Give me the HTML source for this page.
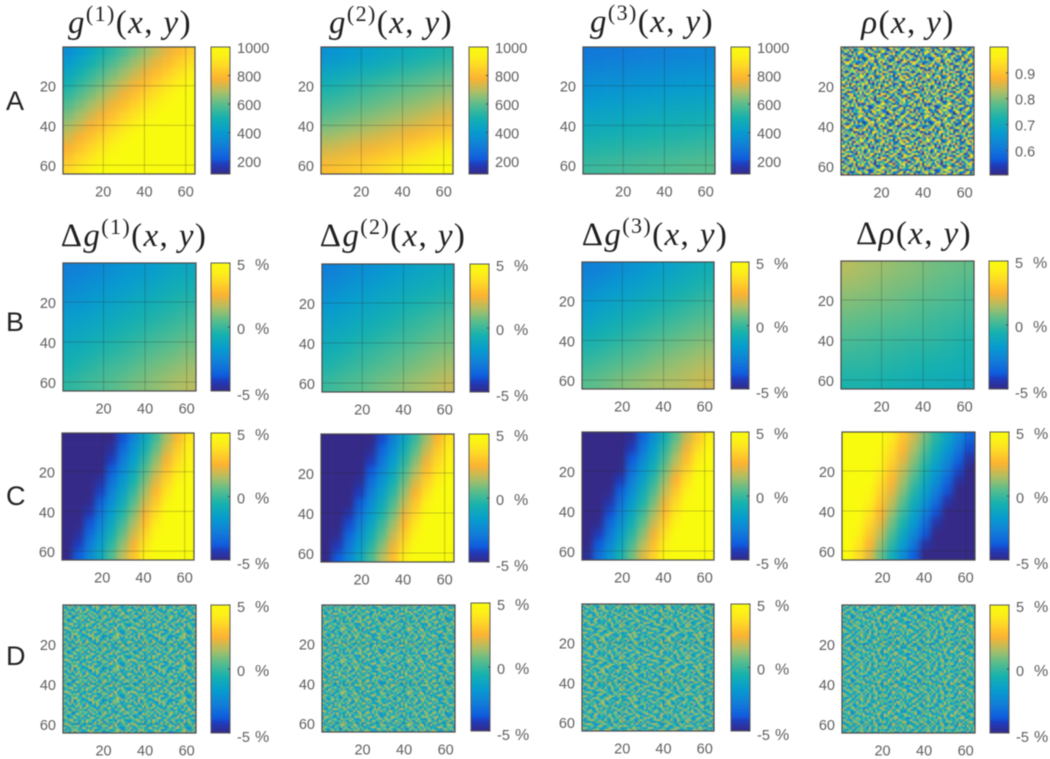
<!DOCTYPE html>
<html lang="en">
<head>
<meta charset="utf-8">
<title>Heatmap panels</title>
<style>
html,body{margin:0;padding:0;background:#fff;width:1050px;height:759px;overflow:hidden}
svg{display:block;filter:blur(0.4px)}
.tick{font-family:"Liberation Sans",sans-serif;font-size:14.5px;fill:#5e5e5e}
.title{font-family:"Liberation Serif",serif;font-size:33px;fill:#1e1e1e;letter-spacing:1.4px}
.title .i{font-style:italic}
.title .s{font-size:22px}
.row-label{font-family:"Liberation Sans",sans-serif;font-size:27px;fill:#222}
</style>
</head>
<body>
<svg id="chart" xmlns="http://www.w3.org/2000/svg" width="1050" height="759" viewBox="0 0 1050 759">
<defs id="defs">
<filter id="soft-8" x="-20%" y="-20%" width="140%" height="140%" color-interpolation-filters="sRGB"><feGaussianBlur stdDeviation="7"/></filter>
<filter id="soft-12" x="-20%" y="-20%" width="140%" height="140%" color-interpolation-filters="sRGB"><feGaussianBlur stdDeviation="3.2"/></filter>
<filter id="soft-noise" x="-5%" y="-5%" width="110%" height="110%" color-interpolation-filters="sRGB"><feGaussianBlur stdDeviation="0.5"/></filter>
</defs>
</svg>
<script>
// ---- axis tick values ----
const axisTicks = [20, 40, 60];
const gainTicks = [200, 400, 600, 800, 1000];
const rhoTicks = [0.6, 0.7, 0.8, 0.9];
const percentTicks = [-5, 0, 5];
const gainRange = [110, 1000];
const rhoRange = [0.505, 1.0];
const percentRange = [-5, 5];
const rhoNoiseRange = [0.51, 0.99];
const deltaNoiseRange = [-2.4, 2.0];
const rowLabels = ["A", "B", "C", "D"];

// ---- row A values ----
const g1Values = [
[360,404,448,492,536,580,624,668,712,756,800,844],
[406,450,494,538,582,626,670,714,758,802,846,890],
[452,496,540,584,628,672,716,760,804,848,892,936],
[498,542,586,630,674,718,762,806,850,894,938,982],
[544,588,632,676,720,764,808,852,896,940,984,1000],
[590,634,678,722,766,810,854,898,942,986,1000,1000],
[636,680,724,768,812,856,900,944,988,1000,1000,1000],
[682,726,770,814,858,902,946,990,1000,1000,1000,1000],
[728,772,816,860,904,948,992,1000,1000,1000,1000,1000],
[774,818,862,906,950,994,1000,1000,1000,1000,1000,1000],
[820,864,908,952,996,1000,1000,1000,1000,1000,1000,1000],
[866,910,954,998,1000,1000,1000,1000,1000,1000,1000,1000]];
const g2Values = [
[372,393,414,435,456,477,498,519],
[436,457,478,499,520,541,562,583],
[500,521,542,563,584,605,620,640],
[550,570,590,610,630,650,670,695],
[600,620,640,660,680,705,730,755],
[665,685,705,725,750,775,805,835],
[730,750,770,795,825,860,900,945],
[805,825,850,875,910,945,985,1000]];
const g3Values = [
[292,298,304,310,316,322,328,334],
[330,336,342,348,354,360,366,372],
[368,374,380,386,392,398,404,410],
[406,412,418,424,430,436,442,448],
[444,450,456,462,468,474,480,486],
[482,488,494,500,506,512,518,524],
[520,526,532,538,544,550,556,562],
[558,564,570,576,582,588,594,600]];
const rhoCells = [
"90417253868142097356120984735216","37581902464709318265840172693058",
"14926053797325861408936527014892","62038471951860247593102768345917",
"85710364223597140682479315068241","29463718050126893745281640937562",
"73105926484038571269654013872095","08679243115492760381937256401786",
"41892570362761349058014893725630","56230189747908126435672018349127",
"92745601381345098726490537162884","18364957020672381459123874690523",
"63018492757284650913876102453967","47592036181903524768035691287140",
"05821673499416870325748230916576","71349208566258193047915463028719",
"34906185720731462859267081354982","89275340164590718236041925763018",
"26150783949673205184583760129437","50783916428129546370398142657026",
"97432061855048137692710583492631","13869520747362980415649327801574",
"68501247392815704936120786354098","42097635181597436208873451902765",
"75316804926043851977209614583210","01748593264829160533586027149376",
"84265170939315720648431970625881","36920481577462893015704258136492",
"59183746020186547329962830417653","20674938153730125896347169850241",
"93541026874692038157805473216906","17806253490251674983129640378525"];

// ---- row B values ----
const deltaG1Smooth = [
[-2.7,-2.5,-2.3,-2.0,-1.8,-1.6,-1.3,-1.1],
[-2.4,-2.1,-1.9,-1.7,-1.4,-1.2,-0.9,-0.7],
[-2.0,-1.8,-1.5,-1.3,-1.0,-0.8,-0.5,-0.3],
[-1.6,-1.4,-1.2,-0.9,-0.7,-0.4,-0.2,0.1],
[-1.3,-1.0,-0.8,-0.5,-0.3,0,0.2,0.5],
[-0.9,-0.7,-0.4,-0.2,0.1,0.4,0.6,0.9],
[-0.6,-0.3,0,0.2,0.5,0.8,1.0,1.3],
[-0.2,0.1,0.3,0.6,0.9,1.1,1.4,1.6]];
const deltaG2Smooth = [
[-2.7,-2.4,-2.2,-1.9,-1.7,-1.4,-1.2,-1.0],
[-2.3,-2.0,-1.8,-1.5,-1.3,-1.0,-0.8,-0.6],
[-1.9,-1.6,-1.4,-1.1,-0.9,-0.6,-0.4,-0.2],
[-1.5,-1.3,-1.0,-0.8,-0.5,-0.2,0,0.3],
[-1.1,-0.9,-0.6,-0.4,-0.1,0.1,0.4,0.6],
[-0.8,-0.5,-0.2,0,0.3,0.5,0.8,1.0],
[-0.4,-0.1,0.1,0.4,0.6,0.9,1.1,1.4],
[0,0.3,0.5,0.8,1.0,1.3,1.5,1.8]];
const deltaG3Smooth = [
[-2.7,-2.5,-2.2,-1.9,-1.6,-1.4,-1.1,-0.8],
[-2.3,-2.0,-1.7,-1.5,-1.2,-0.9,-0.7,-0.4],
[-1.8,-1.5,-1.3,-1.0,-0.8,-0.5,-0.3,0],
[-1.4,-1.1,-0.8,-0.6,-0.3,-0.1,0.2,0.4],
[-0.9,-0.6,-0.4,-0.1,0.1,0.4,0.6,0.8],
[-0.4,-0.2,0.1,0.3,0.6,0.8,1.0,1.2],
[0,0.3,0.5,0.7,1.0,1.2,1.4,1.6],
[0.5,0.7,1.0,1.2,1.4,1.5,1.7,1.9]];
const deltaRhoSmooth = [
[1.6,1.4,1.3,1.1,1.0,0.8,0.7,0.6],
[1.3,1.2,1.0,0.9,0.8,0.6,0.5,0.3],
[1.0,0.9,0.8,0.7,0.5,0.4,0.3,0.1],
[0.7,0.6,0.5,0.4,0.3,0.1,0,-0.1],
[0.4,0.3,0.2,0.1,0,-0.1,-0.2,-0.4],
[0.1,0,-0.1,-0.2,-0.3,-0.3,-0.4,-0.6],
[-0.2,-0.2,-0.3,-0.4,-0.5,-0.6,-0.7,-0.8],
[-0.5,-0.5,-0.6,-0.7,-0.8,-0.8,-0.9,-1.0]];

// ---- row C values ----
const deltaG1Tilt = [
[-5,-5,-5,-5,-5,-3.9,-2.6,-1.2,0.1,1.4,2.7,4.0],
[-5,-5,-5,-5,-4.7,-3.4,-2.1,-0.7,0.6,1.9,3.2,4.3],
[-5,-5,-5,-5,-4.2,-2.9,-1.6,-0.2,1.1,2.4,3.6,4.6],
[-5,-5,-5,-5,-3.7,-2.4,-1.1,0.3,1.6,2.9,4.0,4.8],
[-5,-5,-5,-4.6,-3.2,-1.9,-0.6,0.8,2.1,3.4,4.5,5],
[-5,-5,-5,-4.1,-2.7,-1.4,-0.1,1.3,2.6,3.9,5,5],
[-5,-5,-4.9,-3.6,-2.2,-0.9,0.4,1.8,3.1,4.4,5,5],
[-5,-5,-4.4,-3.1,-1.7,-0.4,0.9,2.3,3.6,4.9,5,5],
[-5,-5,-3.9,-2.6,-1.2,0.1,1.4,2.8,4.1,5,5,5],
[-5,-4.7,-3.4,-2.1,-0.7,0.6,1.9,3.3,4.6,5,5,5],
[-5,-4.2,-2.9,-1.6,-0.2,1.1,2.4,3.8,5,5,5,5],
[-5,-3.7,-2.4,-1.1,0.3,1.6,2.9,4.3,5,5,5,5]];
const deltaG2Tilt = [
[-5,-5,-5,-5,-5,-4.0,-2.7,-1.3,0,1.3,2.6,3.9],
[-5,-5,-5,-5,-4.8,-3.5,-2.2,-0.8,0.5,1.8,3.1,4.2],
[-5,-5,-5,-5,-4.3,-3.0,-1.7,-0.3,1.0,2.3,3.5,4.5],
[-5,-5,-5,-5,-3.8,-2.5,-1.2,0.2,1.5,2.8,3.9,4.7],
[-5,-5,-5,-4.7,-3.3,-2.0,-0.7,0.7,2.0,3.3,4.4,5],
[-5,-5,-5,-4.2,-2.8,-1.5,-0.2,1.2,2.5,3.8,4.9,5],
[-5,-5,-5,-3.7,-2.3,-1.0,0.3,1.7,3.0,4.3,5,5],
[-5,-5,-4.5,-3.2,-1.8,-0.5,0.8,2.2,3.5,4.8,5,5],
[-5,-5,-4.0,-2.7,-1.3,0,1.3,2.7,4.0,5,5,5],
[-5,-4.8,-3.5,-2.2,-0.8,0.5,1.8,3.2,4.5,5,5,5],
[-5,-4.3,-3.0,-1.7,-0.3,1.0,2.3,3.7,4.9,5,5,5],
[-5,-3.8,-2.5,-1.2,0.2,1.5,2.8,4.2,5,5,5,5]];
const deltaG3Tilt = [
[-5,-5,-5,-5,-4.8,-3.5,-2.2,-0.8,0.5,1.8,3.1,4.4],
[-5,-5,-5,-5,-4.3,-3,-1.7,-0.3,1,2.3,3.6,4.8],
[-5,-5,-5,-5,-3.8,-2.5,-1.2,0.2,1.5,2.8,4.1,5],
[-5,-5,-5,-4.9,-3.3,-2,-0.7,0.7,2,3.3,4.6,5],
[-5,-5,-5,-4.2,-2.8,-1.5,-0.2,1.2,2.5,3.8,5,5],
[-5,-5,-4.9,-3.7,-2.3,-1,0.3,1.7,3,4.3,5,5],
[-5,-5,-4.5,-3.2,-1.8,-0.5,0.8,2.2,3.5,4.8,5,5],
[-5,-5,-4,-2.7,-1.3,0,1.3,2.7,4,5,5,5],
[-5,-4.9,-3.5,-2.2,-0.8,0.5,1.8,3.2,4.5,5,5,5],
[-5,-4.3,-3,-1.7,-0.3,1,2.3,3.7,5,5,5,5],
[-5,-3.8,-2.5,-1.2,0.2,1.5,2.8,4.2,5,5,5,5],
[-4.8,-3.3,-2,-0.7,0.7,2,3.3,4.7,5,5,5,5]];
const deltaRhoTilt = [
[5,5,5,5,4.1,3.0,1.9,0.8,-0.3,-1.3,-2.4,-3.5],
[5,5,5,4.8,3.7,2.6,1.5,0.4,-0.7,-1.8,-2.9,-4.0],
[5,5,5,4.5,3.4,2.2,1.1,-0.1,-1.2,-2.3,-3.5,-4.6],
[5,5,5,4.2,3.0,1.8,0.7,-0.5,-1.7,-2.8,-4.0,-5],
[5,5,5,3.8,2.6,1.4,0.2,-1.0,-2.2,-3.4,-4.6,-5],
[5,5,4.7,3.4,2.2,1.0,-0.3,-1.5,-2.7,-3.9,-5,-5],
[5,5,4.3,3.0,1.8,0.5,-0.8,-2.0,-3.3,-4.5,-5,-5],
[5,5,3.9,2.6,1.3,0,-1.3,-2.6,-3.9,-5,-5,-5],
[5,4.8,3.5,2.2,0.8,-0.5,-1.8,-3.2,-4.5,-5,-5,-5],
[5,4.4,3.1,1.7,0.3,-1.1,-2.4,-3.8,-5,-5,-5,-5],
[5,4.0,2.6,1.2,-0.2,-1.6,-3.0,-4.5,-5,-5,-5,-5],
[5,3.6,2.1,0.7,-0.8,-2.3,-3.7,-5,-5,-5,-5,-5]];

// ---- row D values ----
const deltaG1Noise = [
"72819046357120968431570296841375","30582719460831729506184937250614",
"96140385721964027358812460793158","15738260949527613084279351608427",
"48205917362083591746036128459702","61973042856719428065937510284396",
"27460198537350864129745082613957","83016724590492317658120946873201",
"59342871606128950473368719205486","04698135272875316904951240768313",
"36127590483946072581083652917640","78951302641510684937426079135829",
"12584769033697241058760918342567","95037264188042596317239845601072",
"40726983515683901274582136970438","67319058421279645830014567829391"];
const deltaG2Noise = [
"31947506281658209473062815794360","86052193747291065348927430158216",
"14708365920543871926160578342987","72396041859087314562489216075134",
"50261897436914628057723049581670","98437120565370192846056183729452",
"26180759341485730691398274610528","63529408170829146375841506932017",
"09874213652136058794267935180483","47315682095674921038509142768369",
"82096354717208463519634087251945","15763920486941570283178653049206",
"70428136598356289140925016437872","39651084272810937465042798316550",
"94237516008573462918361250794683","28106947355049178632789403165217"];
const deltaG3Noise = [
"58209314767381560294120847936512","14973650288026417953684592103748",
"70346281959415082736309176428580","26815794036872931405572038961264",
"93402167581360578249146825703091","47168039252915603874280391567423",
"01786523948542169037695148032876","65234098172809457316027963841059",
"39750681244178326590863214795602","82491376050634915728402587160397",
"10568942733920764185931760248651","74023158696251830479158346092718",
"56987210348742095613620481935270","21346705892065148397794536120884",
"98715036421438962750316079485123","43062879515897203164258947601736"];
const deltaRhoNoise = [
"26813749055196024837461052983716","74059128362830571946025739184650",
"13965402787641298305872164037592","58207936141027563489316095248173",
"90342581670956417238650823971406","47680129353281906574129746380215",
"31592074868023175960748391025684","85416703229674530812985207643196",
"02739168544360892751306478912530","69120845737158264093542916087341",
"14873596202935081467816350724992","50268417936482379105237098165470",
"97325064181706548329460183729356","38640912757219036584971625043817",
"61057238492548179036203849561728","23794160586093426175648370219045"];

// ---- parula-like colormap anchors (position along bar, colour) ----
const colormapPositions = [0, 0.08, 0.12, 0.22, 0.33, 0.44, 0.55, 0.65, 0.75, 0.85, 0.92, 1];
const colormapColors = [[53,42,135],[30,60,190],[15,92,221],[18,125,216],[7,156,207],[21,177,175],[89,189,140],[175,190,100],[252,178,50],[254,215,40],[252,238,25],[249,251,14]];

const svg = document.getElementById('chart');
const NS = 'http://www.w3.org/2000/svg';

function make(tag, attrs, parent) {
  const el = document.createElementNS(NS, tag);
  for (const k in attrs) el.setAttribute(k, attrs[k]);
  (parent || svg).appendChild(el);
  return el;
}
function parula(t) {
  const clamped = Math.max(0, Math.min(1, t));
  let i = 0;
  while (i < colormapPositions.length - 2 && clamped > colormapPositions[i + 1]) i++;
  const f = (clamped - colormapPositions[i]) / (colormapPositions[i + 1] - colormapPositions[i]);
  const a = colormapColors[i], b = colormapColors[i + 1];
  const c = [0, 1, 2].map(k => Math.round(a[k] + (b[k] - a[k]) * f));
  return 'rgb(' + c.join(',') + ')';
}
function axisX(p, v) { return p.x0 + (v - 0.5) / 64 * (p.x1 - p.x0); }
function axisY(p, v) { return p.y0 + (v - 0.5) / 64 * (p.y1 - p.y0); }
function barY(p, v) { return p.cy1 - (v - p.range[0]) / (p.range[1] - p.range[0]) * (p.cy1 - p.cy0); }

// Digit strings hold noise values as steps 0-9 across noiseRange, tiled over 64x64 cells.
function drawNoise(p, g) {
  const rows = p.noise.length;
  const w = (p.x1 - p.x0) / 64, h = (p.y1 - p.y0) / 64;
  for (let r = 0; r < 64; r++) {
    const rowText = p.noise[r % rows];
    for (let c = 0; c < 64; c++) {
      const step = Number(rowText[c % rowText.length]);
      const value = p.noiseRange[0] + step / 9 * (p.noiseRange[1] - p.noiseRange[0]);
      const cell = make('rect', {x: p.x0 + c * w, y: p.y0 + r * h, width: w + 0.3, height: h + 0.3,
        fill: parula((value - p.range[0]) / (p.range[1] - p.range[0]))}, g);
      
      
    }
  }
}
function drawSmooth(p, g) {
  const rows = p.values.length, cols = p.values[0].length;
  const w = (p.x1 - p.x0) / cols, h = (p.y1 - p.y0) / rows;
  const pad = 30;
  for (let r = 0; r < rows; r++) {
    for (let c = 0; c < cols; c++) {
      const left = c === 0 ? p.x0 - pad : p.x0 + c * w;
      const right = c === cols - 1 ? p.x1 + pad : p.x0 + (c + 1) * w + 0.3;
      const top = r === 0 ? p.y0 - pad : p.y0 + r * h;
      const bottom = r === rows - 1 ? p.y1 + pad : p.y0 + (r + 1) * h + 0.3;
      const cell = make('rect', {x: left, y: top, width: right - left, height: bottom - top,
        fill: parula((p.values[r][c] - p.range[0]) / (p.range[1] - p.range[0]))}, g);
      
      
    }
  }
}
function drawPanel(p, index) {
  const group = make('g', {});
  
  

  const clipId = 'clip-' + index;
  const clip = make('clipPath', {id: clipId}, document.getElementById('defs'));
  make('rect', {x: p.x0, y: p.y0, width: p.x1 - p.x0, height: p.y1 - p.y0}, clip);

  const clipped = make('g', {'clip-path': 'url(#' + clipId + ')'}, group);
  
  
  const blurId = p.noise ? 'soft-noise' : (p.values.length === 8 ? 'soft-8' : 'soft-12');
  const cells = make('g', {filter: 'url(#' + blurId + ')'}, clipped);
  if (p.noise) drawNoise(p, cells); else drawSmooth(p, cells);

  axisTicks.forEach(t => {
    const gx = make('line', {x1: axisX(p, t), x2: axisX(p, t), y1: p.y0, y2: p.y1, stroke: '#2a2a2a', 'stroke-opacity': p.noise ? 0.1 : 0.26, 'stroke-width': 1}, group);
    
    
    const gy = make('line', {x1: p.x0, x2: p.x1, y1: axisY(p, t), y2: axisY(p, t), stroke: '#2a2a2a', 'stroke-opacity': p.noise ? 0.1 : 0.26, 'stroke-width': 1}, group);
    
    
    const xl = make('text', {class: 'tick', x: axisX(p, t), y: p.y1 + 22.5, 'text-anchor': 'middle'}, group);
    xl.textContent = t;
    
    
    const yl = make('text', {class: 'tick', x: p.x0 - 7, y: axisY(p, t) + 6, 'text-anchor': 'end'}, group);
    yl.textContent = t;
    
    
  });
  const frame = make('rect', {x: p.x0, y: p.y0, width: p.x1 - p.x0, height: p.y1 - p.y0, fill: 'none', stroke: '#4a4a4a', 'stroke-width': 1.2}, group);
  
  

  // colorbar
  const bar = make('g', {}, group);
  
  
  const steps = 64, sh = (p.cy1 - p.cy0) / steps;
  for (let i = 0; i < steps; i++) {
    const swatch = make('rect', {x: p.cx0, y: p.cy0 + i * sh, width: p.cx1 - p.cx0, height: sh + 0.3, fill: parula(1 - (i + 0.5) / steps)}, bar);
    
    
  }
  const barFrame = make('rect', {x: p.cx0, y: p.cy0, width: p.cx1 - p.cx0, height: p.cy1 - p.cy0, fill: 'none', stroke: '#5a5a5a', 'stroke-width': 1}, bar);
  
  
  p.ticks.forEach(t => {
    const y = barY(p, t);
    const mark = make('line', {x1: p.cx1 - 2, x2: p.cx1, y1: y, y2: y, stroke: '#444', 'stroke-width': 1}, bar);
    
    
    const shift = p.percent && t === p.range[0] ? 4 : (p.percent ? 2 : 1);
    const label = make('text', {class: 'tick', x: p.cx1 + 7, y: y + 5 + shift}, bar);
    label.textContent = t;
    
    
    if (p.percent) {
      const unit = make('text', {class: 'tick', x: p.cx1 + 25, y: y + 5 + shift, style: 'font-size:16px'}, bar);
      unit.textContent = '%';
      
      
    }
  });
}

const panels = [
 {name:'g1',      values:g1Values, range:gainRange, ticks:gainTicks, x0:63,  x1:195, y0:47,  y1:174, cx0:211, cx1:230, cy0:47,  cy1:174},
 {name:'g2',      values:g2Values, range:gainRange, ticks:gainTicks, x0:321, x1:453, y0:47,  y1:174, cx0:469, cx1:488, cy0:47,  cy1:174},
 {name:'g3',      values:g3Values, range:gainRange, ticks:gainTicks, x0:583, x1:715, y0:47,  y1:174, cx0:731, cx1:750, cy0:47,  cy1:174},
 {name:'rho',     noise:rhoCells, noiseRange:rhoNoiseRange, range:rhoRange, ticks:rhoTicks, x0:841, x1:974, y0:47, y1:175, cx0:990, cx1:1008, cy0:47, cy1:175},
 {name:'b-dg1',   values:deltaG1Smooth, range:percentRange, ticks:percentTicks, percent:true, x0:63,  x1:196, y0:263, y1:391, cx0:211, cx1:230, cy0:263, cy1:391},
 {name:'b-dg2',   values:deltaG2Smooth, range:percentRange, ticks:percentTicks, percent:true, x0:322, x1:454, y0:264, y1:392, cx0:470, cx1:489, cy0:264, cy1:392},
 {name:'b-dg3',   values:deltaG3Smooth, range:percentRange, ticks:percentTicks, percent:true, x0:582, x1:714, y0:262, y1:389, cx0:731, cx1:749, cy0:262, cy1:389},
 {name:'b-drho',  values:deltaRhoSmooth, range:percentRange, ticks:percentTicks, percent:true, x0:841, x1:974, y0:261, y1:389, cx0:989, cx1:1008, cy0:261, cy1:389},
 {name:'c-dg1',   values:deltaG1Tilt, range:percentRange, ticks:percentTicks, percent:true, x0:62,  x1:194, y0:433, y1:560, cx0:211, cx1:230, cy0:433, cy1:560},
 {name:'c-dg2',   values:deltaG2Tilt, range:percentRange, ticks:percentTicks, percent:true, x0:321, x1:454, y0:434, y1:562, cx0:469, cx1:489, cy0:434, cy1:562},
 {name:'c-dg3',   values:deltaG3Tilt, range:percentRange, ticks:percentTicks, percent:true, x0:582, x1:714, y0:432, y1:560, cx0:731, cx1:749, cy0:432, cy1:560},
 {name:'c-drho',  values:deltaRhoTilt, range:percentRange, ticks:percentTicks, percent:true, x0:842, x1:975, y0:432, y1:560, cx0:990, cx1:1009, cy0:432, cy1:560},
 {name:'d-dg1',   noise:deltaG1Noise, noiseRange:deltaNoiseRange, range:percentRange, ticks:percentTicks, percent:true, x0:63,  x1:196, y0:605, y1:733, cx0:211, cx1:230, cy0:605, cy1:733},
 {name:'d-dg2',   noise:deltaG2Noise, noiseRange:deltaNoiseRange, range:percentRange, ticks:percentTicks, percent:true, x0:322, x1:455, y0:605, y1:732, cx0:471, cx1:490, cy0:603, cy1:731},
 {name:'d-dg3',   noise:deltaG3Noise, noiseRange:deltaNoiseRange, range:percentRange, ticks:percentTicks, percent:true, x0:582, x1:714, y0:604, y1:731, cx0:731, cx1:750, cy0:604, cy1:731},
 {name:'d-drho',  noise:deltaRhoNoise, noiseRange:deltaNoiseRange, range:percentRange, ticks:percentTicks, percent:true, x0:842, x1:975, y0:605, y1:733, cx0:990, cx1:1009, cy0:605, cy1:733}
];
panels.forEach(drawPanel);

// titles: real text with superscripts
const titleSpecs = [
 {name:'g1-title', cx:130, y:33, sym:'', letter:'g', sup:'(1)'},
 {name:'g2-title', cx:391, y:33, sym:'', letter:'g', sup:'(2)'},
 {name:'g3-title', cx:652, y:32, sym:'', letter:'g', sup:'(3)'},
 {name:'rho-title', cx:908, y:33, sym:'', letter:'\u03C1', sup:''},
 {name:'dg1-title', cx:134, y:246, sym:'\u0394', letter:'g', sup:'(1)'},
 {name:'dg2-title', cx:393, y:246, sym:'\u0394', letter:'g', sup:'(2)'},
 {name:'dg3-title', cx:655, y:245, sym:'\u0394', letter:'g', sup:'(3)'},
 {name:'drho-title', cx:914, y:244, sym:'\u0394', letter:'\u03C1', sup:''}
];
titleSpecs.forEach(t => {
  const el = make('text', {class:'title', x:t.cx, y:t.y, 'text-anchor':'middle'});
  
  
  let html = t.sym + '<tspan class="i">' + t.letter + '</tspan>';
  if (t.sup) html += '<tspan class="s" dy="-12">' + t.sup + '</tspan><tspan dy="12">(</tspan>';
  else html += '(';
  html += '<tspan class="i">x</tspan>, <tspan class="i">y</tspan>)';
  el.innerHTML = html;
});

// row letters
const rowLabelY = [110, 331, 505, 665];
rowLabels.forEach((label, i) => {
  const el = make('text', {class:'row-label', x:6, y:rowLabelY[i]});
  el.textContent = label;
  
  
});
</script>
</body>
</html>
